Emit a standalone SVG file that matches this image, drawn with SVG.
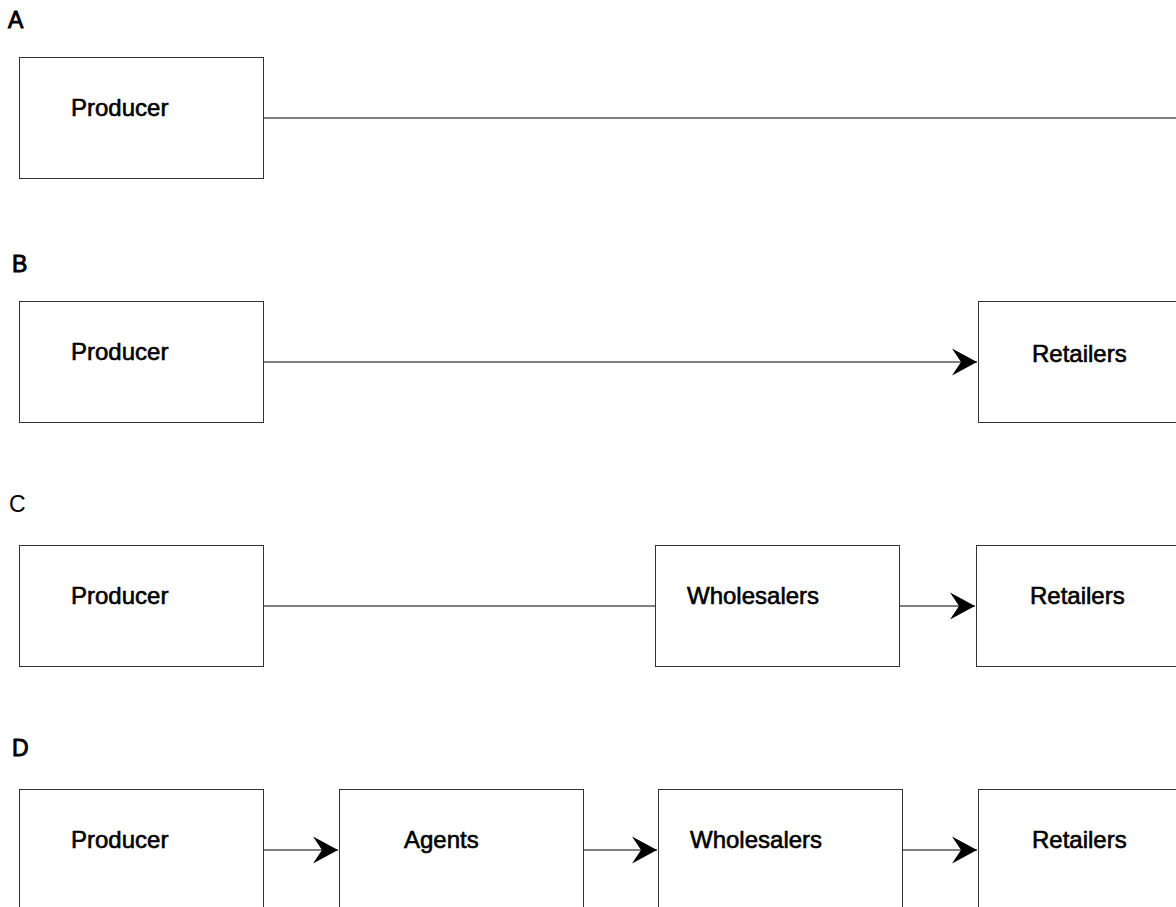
<svg xmlns="http://www.w3.org/2000/svg" width="1176" height="907" viewBox="0 0 1176 907">
  <style>
    .box { fill: #ffffff; stroke: #333333; stroke-width: 1; }
    .lbl { font-family: "Liberation Sans", Arial, sans-serif; font-size: 24px; fill: #000; stroke: #000; stroke-width: 0.6; }
    .tag { font-family: "Liberation Sans", Arial, sans-serif; font-size: 23px; fill: #000; }
    .heavy { stroke: #000; stroke-width: 0.9; }
    .edge { fill: none; stroke: #000; stroke-width: 1; }
  </style>
  <defs>
    <marker id="head" markerUnits="userSpaceOnUse" markerWidth="30" markerHeight="30" viewBox="0 0 30 30" refX="27" refY="15" orient="auto">
      <path d="M2,1.5 L27,15 L2,28.5 L11,15 Z" fill="#000"/>
    </marker>
  </defs>
  <rect width="1176" height="907" fill="#ffffff"/>

  <!-- row headings -->
  <text class="tag heavy" x="8" y="28">A</text>
  <text class="tag heavy" x="12" y="272">B</text>
  <text class="tag" x="9" y="512">C</text>
  <text class="tag heavy" x="12" y="756">D</text>

  <!-- connectors -->
  <g id="connectors">
    <line class="edge" x1="263" y1="118" x2="1176" y2="118"/>
    <line class="edge" x1="263" y1="362" x2="977" y2="362" marker-end="url(#head)"/>
    <line class="edge" x1="263" y1="606" x2="655" y2="606"/>
    <line class="edge" x1="899" y1="606" x2="975" y2="606" marker-end="url(#head)"/>
    <line class="edge" x1="263" y1="850" x2="338" y2="850" marker-end="url(#head)"/>
    <line class="edge" x1="583" y1="850" x2="657" y2="850" marker-end="url(#head)"/>
    <line class="edge" x1="902" y1="850" x2="977" y2="850" marker-end="url(#head)"/>
  </g>

  <!-- row A -->
  <g id="a-producer">
    <rect class="box" x="19.5" y="57.5" width="244" height="121"/>
    <text class="lbl" x="71" y="116">Producer</text>
  </g>

  <!-- row B -->
  <g id="b-producer">
    <rect class="box" x="19.5" y="301.5" width="244" height="121"/>
    <text class="lbl" x="71" y="360">Producer</text>
  </g>
  <g id="b-retailers">
    <rect class="box" x="978.5" y="301.5" width="244" height="121"/>
    <text class="lbl" x="1032" y="362">Retailers</text>
  </g>

  <!-- row C -->
  <g id="c-producer">
    <rect class="box" x="19.5" y="545.5" width="244" height="121"/>
    <text class="lbl" x="71" y="604">Producer</text>
  </g>
  <g id="c-wholesalers">
    <rect class="box" x="655.5" y="545.5" width="244" height="121"/>
    <text class="lbl" x="687" y="604">Wholesalers</text>
  </g>
  <g id="c-retailers">
    <rect class="box" x="976.5" y="545.5" width="244" height="121"/>
    <text class="lbl" x="1030" y="604">Retailers</text>
  </g>

  <!-- row D -->
  <g id="d-producer">
    <rect class="box" x="19.5" y="789.5" width="244" height="121"/>
    <text class="lbl" x="71" y="848">Producer</text>
  </g>
  <g id="d-agents">
    <rect class="box" x="339.5" y="789.5" width="244" height="121"/>
    <text class="lbl" x="404" y="848">Agents</text>
  </g>
  <g id="d-wholesalers">
    <rect class="box" x="658.5" y="789.5" width="244" height="121"/>
    <text class="lbl" x="690" y="848">Wholesalers</text>
  </g>
  <g id="d-retailers">
    <rect class="box" x="978.5" y="789.5" width="244" height="121"/>
    <text class="lbl" x="1032" y="848">Retailers</text>
  </g>
</svg>
